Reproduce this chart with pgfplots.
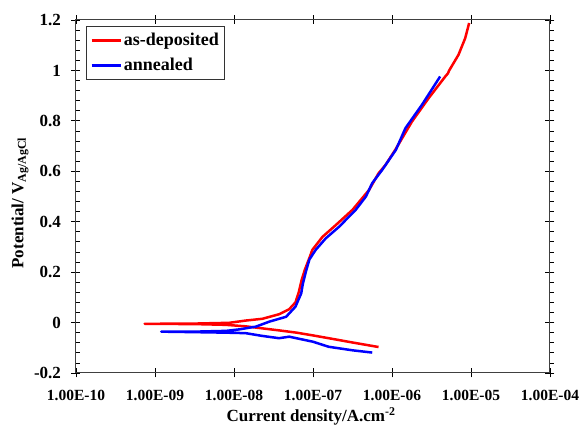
\documentclass[border=0pt]{standalone}
\usepackage{pgfplots}
\pgfplotsset{compat=1.18}
\usepackage{fontspec}
\setmainfont{Liberation Serif}

\begin{document}
\begin{tikzpicture}
\begin{axis}[
  name=ax,
  at={(0,0)}, anchor=south west,
  scale only axis,
  width=474pt, height=353pt,
  xmode=log, log basis x=10,
  xmin=1e-10, xmax=1e-4,
  ymin=-0.2, ymax=1.2,
  xtick={1e-10,1e-9,1e-8,1e-7,1e-6,1e-5,1e-4},
  xticklabels={1.00E-10,1.00E-09,1.00E-08,1.00E-07,1.00E-06,1.00E-05,1.00E-04},
  ytick={-0.2,0,0.2,0.4,0.6,0.8,1,1.2},
  minor y tick num=4,
  tick align=center,
  major tick length=9pt,
  minor tick length=4pt,
  minor x tick style={yshift=2pt},
  minor y tick style={xshift=2pt},
  tick style={black, line width=0.8pt},
  axis line style={black!75, line width=1pt},
  /pgf/number format/assume math mode=true,
  /pgf/number format/fixed,
  yticklabel style={font=\fontsize{17}{20}\selectfont\bfseries, xshift=-7pt},
  xticklabel style={font=\fontsize{15.5}{18}\selectfont\bfseries, yshift=-9pt},
  xlabel={Current density/A.cm\textsuperscript{-2}},
  ylabel={Potential/ V\textsubscript{Ag/AgCl}},
  label style={font=\fontsize{17}{20}\selectfont\bfseries},
  xlabel style={at={(axis description cs:0.496,-0.123)}, anchor=center},
  ylabel style={at={(axis description cs:-0.118,0.482)}, anchor=center},
  legend style={at={(axis description cs:0.021,0.983)}, anchor=north west,
    draw=black!80, line width=0.8pt, font=\fontsize{18}{21}\selectfont\bfseries,
    inner xsep=4pt, inner ysep=5pt, row sep=7pt},
  legend cell align=left,
  legend image code/.code={\draw[#1, line width=2.5pt] (0pt,0pt) -- (29pt,0pt);},
  every axis plot/.append style={line width=2.5pt, line join=round},
]
% as-deposited: cathodic branch, then anodic branch
\addplot[color=red] coordinates {
  (6.76e-7,-0.097)(3.16e-7,-0.079)(1.58e-7,-0.062)(1.0e-7,-0.051)
  (6.2e-8,-0.040)(3.72e-8,-0.031)(2.29e-8,-0.023)(1.41e-8,-0.015)
  (7.9e-9,-0.009)(3.16e-9,-0.006)(7.4e-10,-0.005)
  (3.16e-9,-0.004)(8.7e-9,-0.001)(1.41e-8,0.008)(2.29e-8,0.015)
  (3.72e-8,0.033)(5.0e-8,0.053)(6.0e-8,0.080)(6.6e-8,0.120)
  (7.2e-8,0.170)(7.9e-8,0.210)(9.1e-8,0.260)(9.8e-8,0.288)
  (1.32e-7,0.340)(1.95e-7,0.387)(3.16e-7,0.447)(5.13e-7,0.526)
  (6.76e-7,0.592)(8.28e-7,0.625)(1.1e-6,0.685)(1.79e-6,0.797)
  (2.91e-6,0.890)(4.73e-6,0.976)(5.1e-6,0.988)(5.3e-6,1.000)
  (6.95e-6,1.062)(8.45e-6,1.128)(9.48e-6,1.188)
};
\addlegendentry{as-deposited}
% annealed: cathodic branch, then anodic branch
\addplot[color=blue] coordinates {
  (5.62e-7,-0.119)(3.16e-7,-0.110)(1.58e-7,-0.096)(1.0e-7,-0.076)
  (5.0e-8,-0.056)(3.72e-8,-0.062)(2.29e-8,-0.053)(1.41e-8,-0.042)
  (7.9e-9,-0.040)(3.16e-9,-0.038)(1.2e-9,-0.036)
  (3.16e-9,-0.036)(7.9e-9,-0.033)(1.17e-8,-0.027)(1.9e-8,-0.016)
  (2.82e-8,0.004)(4.57e-8,0.023)(6.0e-8,0.063)(7.1e-8,0.116)
  (7.4e-8,0.150)(8.1e-8,0.200)(9.0e-8,0.250)(1.08e-7,0.288)
  (1.45e-7,0.334)(2.14e-7,0.380)(3.47e-7,0.447)(4.68e-7,0.500)
  (5.62e-7,0.553)(7.5e-7,0.605)(1.12e-6,0.685)(1.48e-6,0.771)
  (2.4e-6,0.864)(4.07e-6,0.976)
};
\addlegendentry{annealed}
\end{axis}
\pgfresetboundingbox
\path[use as bounding box] (-76pt,-55pt) rectangle (506pt,373pt);
\end{tikzpicture}
\end{document}
